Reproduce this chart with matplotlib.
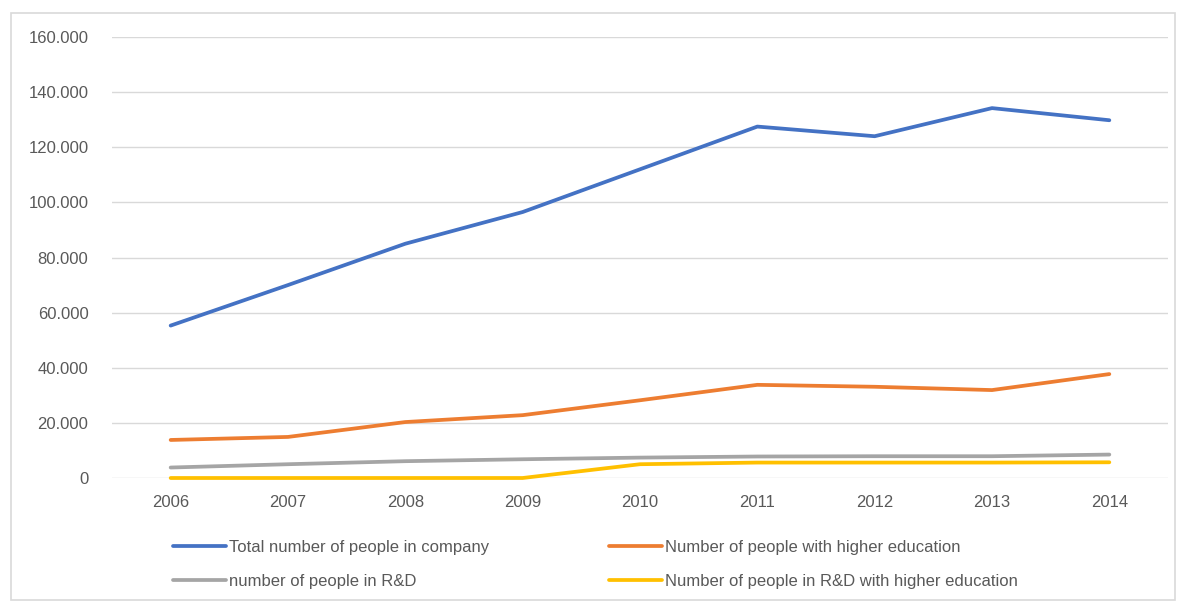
import matplotlib
matplotlib.use("Agg")
import matplotlib.pyplot as plt
from matplotlib.patches import Rectangle
from matplotlib.ticker import FuncFormatter, MultipleLocator

# data
years = [2006, 2007, 2008, 2009, 2010, 2011, 2012, 2013, 2014]
total = [55300, 70000, 85000, 96500, 112000, 127500, 124000, 134200, 129800]
higher_edu = [13800, 14900, 20300, 22800, 28200, 33800, 33100, 31900, 37700]
rnd = [3800, 5000, 6100, 6800, 7400, 7800, 7900, 7900, 8500]
rnd_higher_edu = [0, 0, 0, 0, 5000, 5600, 5600, 5600, 5700]

labels = ["Total number of people in company",
          "Number of people with higher education",
          "number of people in R&D",
          "Number of people in R&D with higher education"]
colors = ["#4472C4", "#ED7D31", "#A5A5A5", "#FFC000"]

plt.rcParams["font.family"] = ["Liberation Sans", "DejaVu Sans"]
W, H = 1179, 602
fig = plt.figure(figsize=(W / 100, H / 100), dpi=100)
ax = fig.add_axes([112 / W, 1 - 478 / H, (1168 - 112) / W, (478 - 37) / H])

x = list(range(len(years)))
series = [total, higher_edu, rnd, rnd_higher_edu]
lines = []
for vals, c, lab in zip(series, colors, labels):
    ln, = ax.plot(x, vals, color=c, lw=2.7, solid_capstyle="round", label=lab,
                  zorder=3, clip_on=False)
    lines.append(ln)

ax.set_xlim(-0.5, len(years) - 0.5)
ax.set_ylim(0, 160000)
ax.yaxis.set_major_locator(MultipleLocator(20000))
ax.yaxis.set_major_formatter(FuncFormatter(lambda v, p: f"{v:,.0f}".replace(",", ".")))
ax.set_xticks(x)
ax.set_xticklabels([str(y) for y in years])
ax.grid(axis="y", color="#d9d9d9", lw=1)
ax.set_axisbelow(True)
for s in ax.spines.values():
    s.set_visible(False)
ax.tick_params(length=0, labelsize=12, labelcolor="#595959")
ax.tick_params(axis="y", pad=17)
ax.tick_params(axis="x", pad=12)

# legend: 2 columns, filled column-wise
order = [0, 2, 1, 3]
fig.legend([lines[i] for i in order], [labels[i] for i in order],
           loc="upper left", bbox_to_anchor=(158 / W, 1 - 525 / H), ncol=2,
           frameon=False, fontsize=12, handlelength=3.2, handletextpad=0.15,
           columnspacing=7.2, labelspacing=1.15, labelcolor="#595959")

fig.patches.append(Rectangle((11 / W, 1 - 600 / H), (1175 - 11) / W, (600 - 13) / H,
                             transform=fig.transFigure, fill=False,
                             edgecolor="#d9d9d9", lw=1.2))

fig.savefig("out.png", dpi=100)
